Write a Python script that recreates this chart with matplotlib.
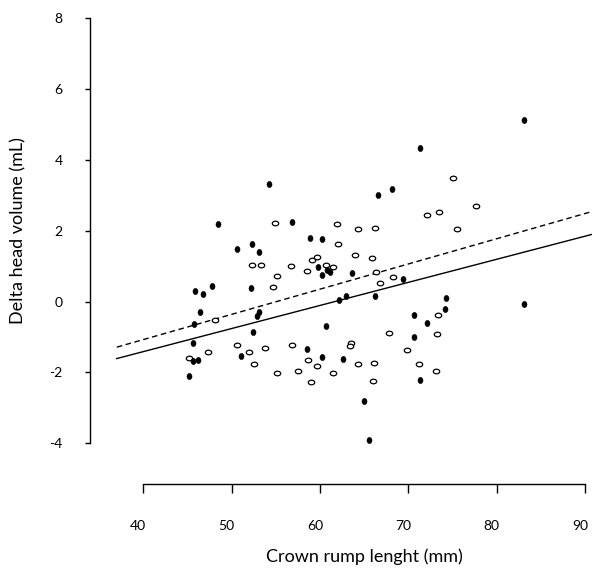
import matplotlib
matplotlib.use("Agg")
import matplotlib.pyplot as plt
import matplotlib.transforms as mtransforms
from matplotlib.path import Path
import numpy as np

plt.rcParams['font.family'] = ['Lato', 'DejaVu Sans']

# ---- data ----
filled_x = [54.25, 48.42, 52.30, 50.60, 53.05, 45.85, 46.72, 47.81, 52.22, 46.41,
            53.12, 52.83, 68.10, 66.52, 56.86, 58.82, 60.21, 59.73, 60.21, 60.75,
            61.12, 63.64, 69.34, 62.10, 62.96, 66.21, 70.62, 45.74, 52.44, 45.59,
            45.66, 46.15, 51.09, 45.17, 72.06, 60.67, 70.62, 58.52, 60.21, 62.62,
            71.30, 65.00, 65.50, 83.10, 71.30, 74.21, 74.13, 83.10]
filled_y = [3.32, 2.18, 1.62, 1.48, 1.39, 0.31, 0.21, 0.44, 0.38, -0.29,
            -0.29, -0.40, 3.17, 3.01, 2.24, 1.80, 1.76, 0.97, 0.75, 0.89,
            0.83, 0.82, 0.63, 0.06, 0.17, 0.17, -0.38, -0.62, -0.86, -1.18,
            -1.68, -1.66, -1.54, -2.09, -0.60, -0.68, -1.00, -1.35, -1.57, -1.61,
            -2.20, -2.80, -3.91, 5.12, 4.34, 0.09, -0.21, -0.07]

open_x = [54.90, 52.30, 53.35, 56.71, 55.12, 54.65, 61.88, 64.29, 66.21, 72.06,
          73.48, 62.02, 59.12, 59.62, 58.55, 60.67, 61.43, 63.95, 65.91, 66.29,
          68.28, 66.81, 73.37, 48.14, 50.60, 47.29, 51.92, 53.80, 45.20, 52.55,
          55.16, 67.83, 73.22, 56.86, 63.53, 63.38, 69.80, 58.63, 59.62, 64.25,
          66.13, 71.15, 57.47, 61.43, 73.11, 58.97, 66.00, 75.03, 77.63, 75.48]
open_y = [2.23, 1.04, 1.04, 1.02, 0.72, 0.40, 2.20, 2.05, 2.07, 2.45,
          2.52, 1.63, 1.17, 1.27, 0.86, 1.04, 0.99, 1.31, 1.23, 0.84,
          0.70, 0.52, -0.38, -0.51, -1.23, -1.42, -1.42, -1.31, -1.58, -1.77,
          -2.02, -0.89, -0.92, -1.23, -1.16, -1.26, -1.37, -1.65, -1.82, -1.77,
          -1.74, -1.76, -1.95, -2.02, -1.97, -2.26, -2.25, 3.49, 2.70, 2.05]

# regression lines: (intercept, slope)
solid_fit = (-4.02, 0.0652)
dashed_fit = (-3.92, 0.0712)
line_x_range = [37.0, 91.0]

x_ticks = [40, 50, 60, 70, 80, 90]
y_ticks = [-4, -2, 0, 2, 4, 6, 8]
x_label = "Crown rump lenght (mm)"
y_label = "Delta head volume (mL)"

# ---- figure ----
W, H = 592, 579
fig = plt.figure(figsize=(W / 100, H / 100), dpi=100)
left_px, right_px, top_px, bottom_px = 90, 592, 18.3, 484.3
ax = fig.add_axes([left_px / W, (H - bottom_px) / H,
                   (right_px - left_px) / W, (bottom_px - top_px) / H])
ax.set_xlim(33.97, 90.78)
ax.set_ylim(-5.158, 8.0)

# custom ellipse markers
t = np.linspace(0, 2 * np.pi, 40)
tall = Path(np.column_stack([0.8 * np.cos(t), np.sin(t)]), closed=True)
wide = Path(np.column_stack([np.cos(t), 0.72 * np.sin(t)]), closed=True)

ax.plot(open_x, open_y, linestyle='none', marker=wide, markersize=4.6,
        markerfacecolor='white', markeredgecolor='black', markeredgewidth=0.9,
        zorder=3)
ax.plot(filled_x, filled_y, linestyle='none', marker=tall, markersize=4.6,
        markerfacecolor='black', markeredgecolor='black', markeredgewidth=0.3,
        zorder=4)

lx = np.array(line_x_range)
ax.plot(lx, solid_fit[0] + solid_fit[1] * lx, color='black', lw=1.0,
        clip_on=False, zorder=2)
ax.plot(lx, dashed_fit[0] + dashed_fit[1] * lx, color='black', lw=1.0,
        dashes=(4, 2.6), clip_on=False, zorder=2)

for s in ['top', 'right']:
    ax.spines[s].set_visible(False)
ax.spines['left'].set_bounds(-4, 8)
ax.spines['bottom'].set_bounds(40, 90)
for s in ['left', 'bottom']:
    ax.spines[s].set_linewidth(1.0)

ax.set_xticks(x_ticks)
ax.set_yticks(y_ticks)
ax.set_xticklabels([str(v) for v in x_ticks])
ax.set_yticklabels([str(v) for v in y_ticks])
ax.tick_params(axis='x', direction='out', length=6.5, width=1.0, pad=19,
               labelsize=10)
ax.tick_params(axis='y', direction='out', length=3.6, width=1.0, pad=16,
               labelsize=10)
# shift x tick labels slightly left (as in the reference)
off = mtransforms.ScaledTranslation(-5 / 100, 0, fig.dpi_scale_trans)
for lab in ax.get_xticklabels():
    lab.set_transform(lab.get_transform() + off)

fig.text(364 / W, 1 - 557 / H, x_label, ha='center', va='center', fontsize=13)
fig.text(18 / W, 1 - 230.7 / H, y_label, ha='center', va='center',
         fontsize=13, rotation=90)

fig.savefig("out.png", dpi=100)
